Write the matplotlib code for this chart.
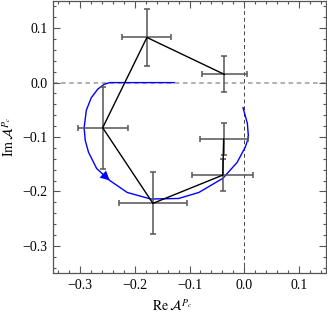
import numpy as np
import matplotlib
matplotlib.use("Agg")
import matplotlib.pyplot as plt
from matplotlib.ticker import MultipleLocator

plt.rcParams["font.family"] = ["Liberation Serif", "DejaVu Serif"]
plt.rcParams["mathtext.fontset"] = "stix"

# Points with error bars, in the order the black line joins them
pt_re = [-0.036, -0.178, -0.259, -0.167, -0.039, -0.0375]
pt_im = [0.015, 0.083, -0.083, -0.222, -0.170, -0.104]
pt_re_err = [0.042, 0.045, 0.046, 0.062, 0.056, 0.044]
pt_im_err = [0.033, 0.053, 0.075, 0.057, 0.030, 0.030]

# Blue trajectory (start -> end)
curve_re = [-0.128, -0.200, -0.246, -0.256, -0.268, -0.280, -0.289, -0.293,
            -0.291, -0.285, -0.270, -0.246, -0.214, -0.171, -0.120, -0.083,
            -0.039, -0.013, 0.002, 0.008, 0.006, -0.002]
curve_im = [0.0, 0.0, 0.0, -0.003, -0.012, -0.028, -0.051, -0.083,
            -0.106, -0.128, -0.158, -0.180, -0.202, -0.214, -0.213, -0.202,
            -0.176, -0.147, -0.119, -0.101, -0.075, -0.046]

fig = plt.figure(figsize=(3.27, 3.16), dpi=100)
ax = fig.add_axes([53 / 327, 43 / 316, 273 / 327, 272 / 316])

ax.axhline(0, color="#aaaaaa", lw=1.3, ls=(0, (2.5, 2)), zorder=1)
ax.axvline(0, color="#444444", lw=0.7, ls=(0, (4, 3)), zorder=1)

ax.plot(curve_re, curve_im, color="#0000ff", lw=1.0, zorder=2)
# arrow head on the trajectory
i = 11
ax.annotate("", xy=(curve_re[i], curve_im[i]),
            xytext=(curve_re[i - 1], curve_im[i - 1]),
            arrowprops=dict(arrowstyle="-|>", color="#0000ff", lw=0,
                            mutation_scale=17, shrinkA=0, shrinkB=0),
            zorder=3)

ax.errorbar(pt_re, pt_im, xerr=pt_re_err, yerr=pt_im_err, fmt="none",
            ecolor="#555555", elinewidth=1.1, capsize=2.2, capthick=1.1, zorder=3)
ax.plot(pt_re, pt_im, color="black", lw=1.0, zorder=4)

ax.set_xlim(-0.35, 0.15)
ax.set_ylim(-0.35, 0.15)
ax.xaxis.set_major_locator(MultipleLocator(0.1))
ax.yaxis.set_major_locator(MultipleLocator(0.1))
ax.xaxis.set_minor_locator(MultipleLocator(0.02))
ax.yaxis.set_minor_locator(MultipleLocator(0.02))
ax.xaxis.set_major_formatter(lambda v, p: f"{v:.1f}".replace("-", "\u2212"))
ax.yaxis.set_major_formatter(lambda v, p: f"{v:.1f}".replace("-", "\u2212"))
ax.tick_params(which="both", direction="in", top=True, right=True,
               color="#555555", labelsize=10, width=0.8)
ax.tick_params(which="major", length=5, pad=4)
ax.tick_params(which="minor", length=2.5)
for s in ax.spines.values():
    s.set_color("#555555")
    s.set_linewidth(0.9)

ax.set_xlabel(r"$\mathrm{Re}\,\mathcal{A}^{P_c}$", fontsize=10)
ax.set_ylabel(r"$\mathrm{Im}\,\mathcal{A}^{P_c}$", fontsize=10)
ax.xaxis.set_label_coords((172 - 53) / 273, -0.09)
ax.yaxis.set_label_coords(-0.135, 0.5)

fig.savefig("out.png", dpi=100)
